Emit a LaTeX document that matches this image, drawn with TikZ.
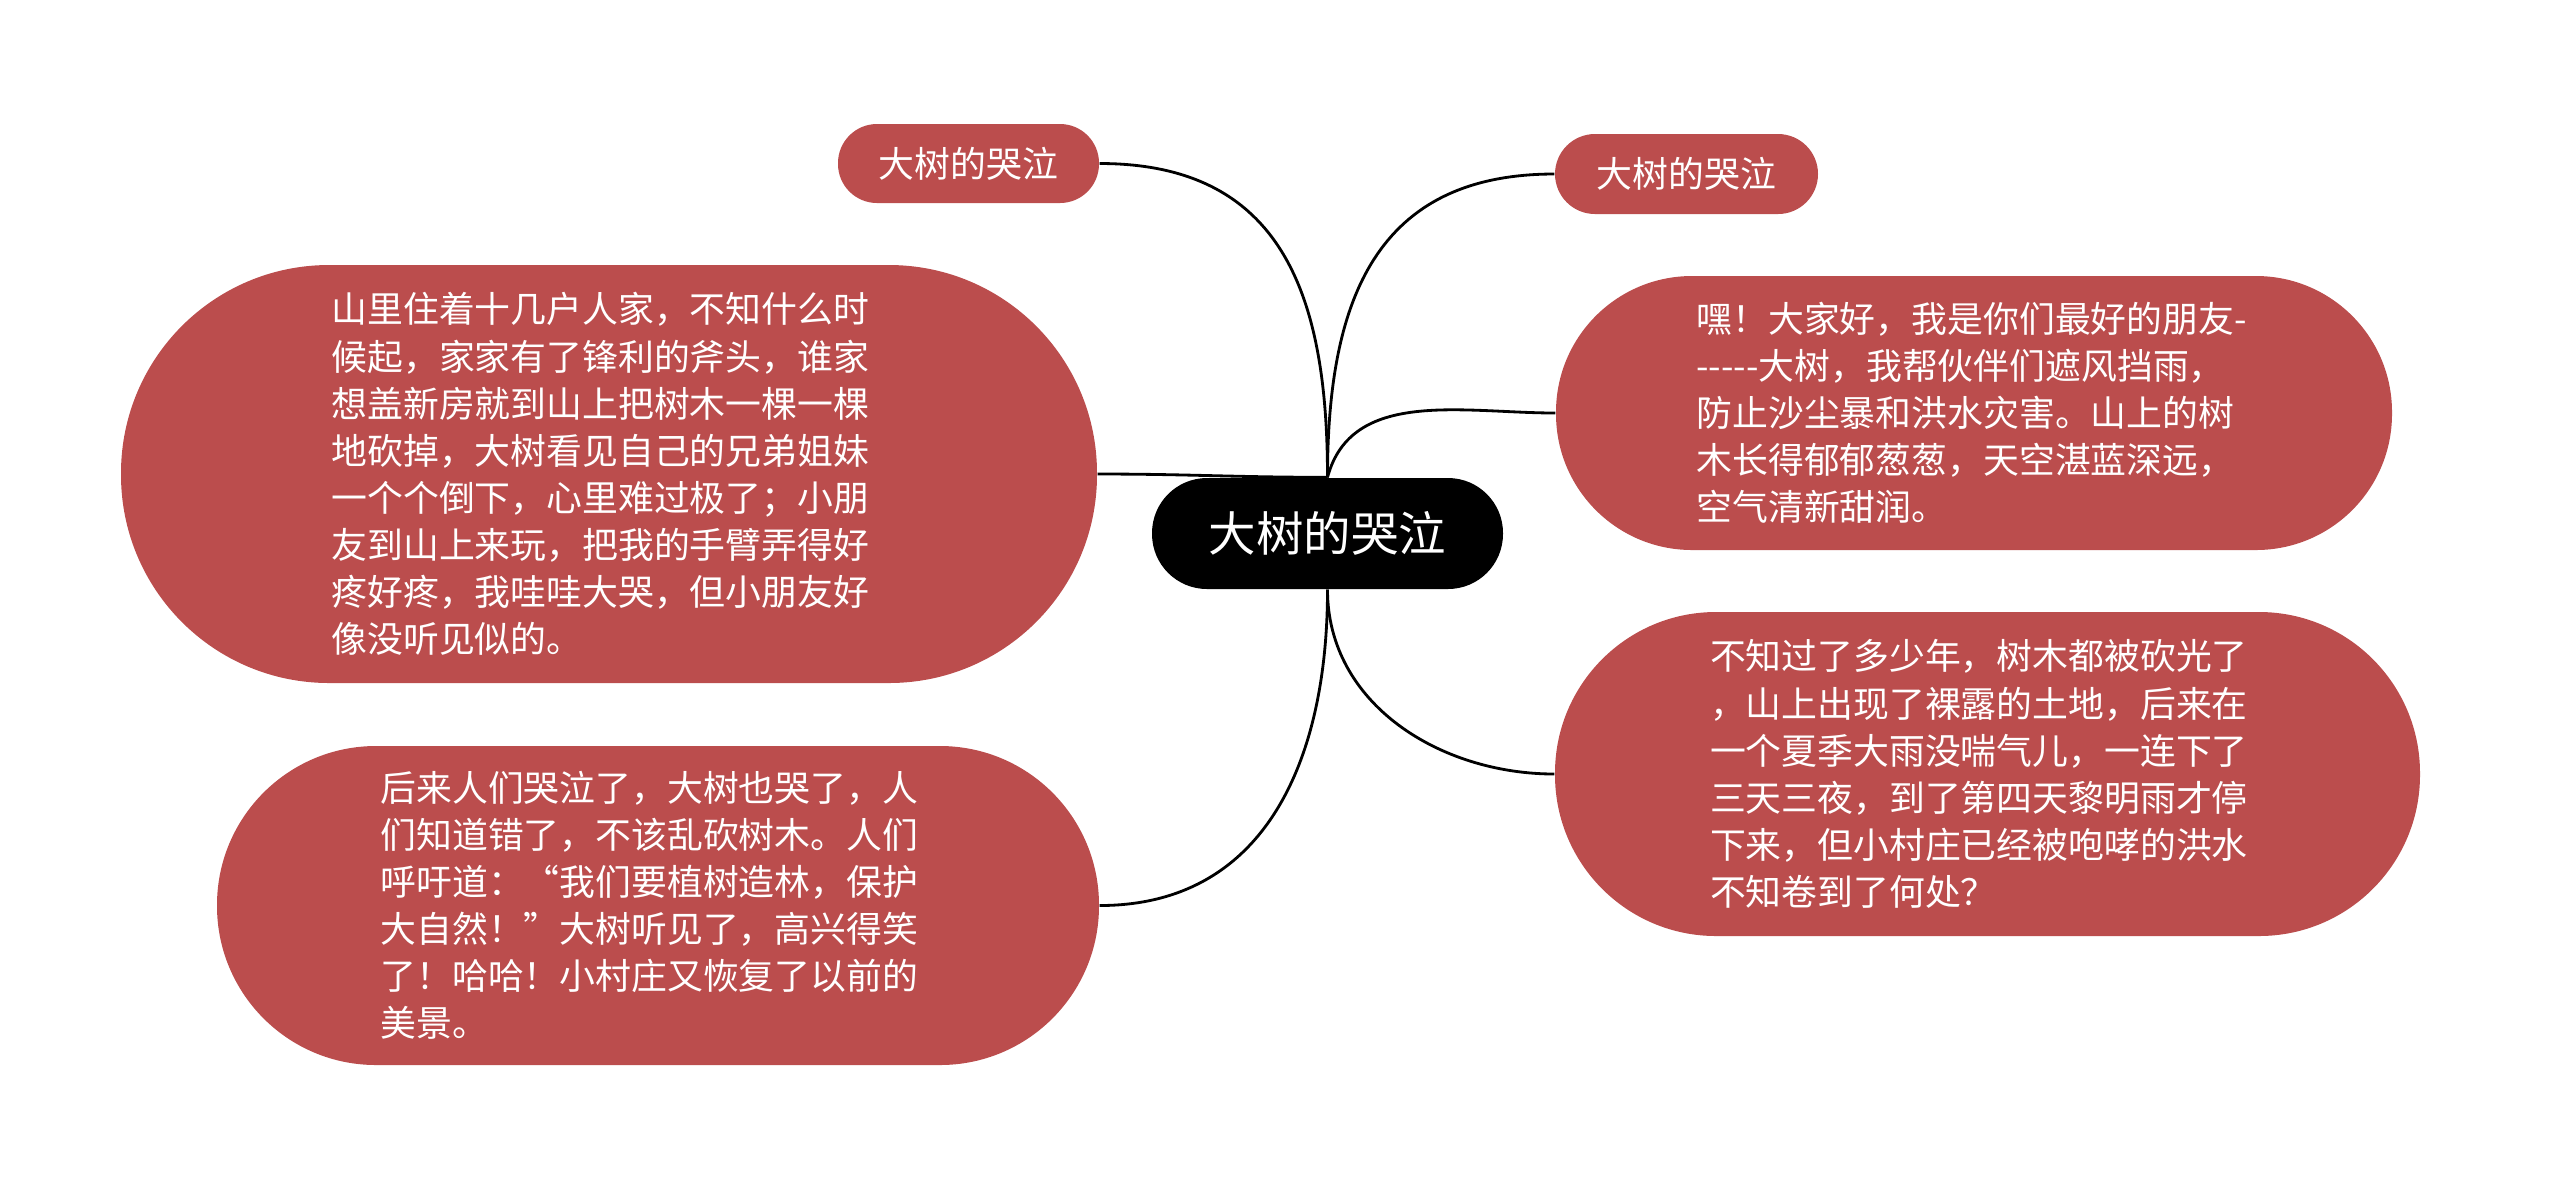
\documentclass[tikz,border=0pt]{standalone}
\usepackage{fontspec}
\setmainfont{Noto Sans CJK SC}
\definecolor{leafred}{RGB}{187,77,77}

\begin{document}
\begin{tikzpicture}[
		every node/.style={inner sep=0pt, text=white},
		topic/.style={fill=black, font=\fontsize{13.5}{16}\selectfont},
		leaf/.style={fill=leafred, font=\fontsize{10.2}{13.4}\selectfont},
		story/.style={leaf, text width=5.55cm, align=left},
		branch/.style={draw=black, line width=0.8pt}
	]
  \useasboundingbox (0,0) rectangle (25.6,-11.88);
  \node (root) [topic, minimum width=3.51cm, minimum height=1.11cm, rounded corners=0.55cm] at (13.275cm, -5.335cm) {大树的哭泣};
  \node (tl) [leaf, minimum width=2.61cm, minimum height=0.79cm, rounded corners=0.39cm] at (9.685cm, -1.635cm) {大树的哭泣};
  \node (tr) [leaf, minimum width=2.63cm, minimum height=0.8cm, rounded corners=0.4cm] at (16.865cm, -1.74cm) {大树的哭泣};
  \node (l1) [story, minimum width=9.76cm, minimum height=4.18cm, rounded corners=2.08cm] at (6.09cm, -4.74cm) {山里住着十几户人家，不知什么时\\候起，家家有了锋利的斧头，谁家\\想盖新房就到山上把树木一棵一棵\\地砍掉，大树看见自己的兄弟姐妹\\一个个倒下，心里难过极了；小朋\\友到山上来玩，把我的手臂弄得好\\疼好疼，我哇哇大哭，但小朋友好\\像没听见似的。};
  \node (l2) [story, minimum width=8.82cm, minimum height=3.19cm, rounded corners=1.59cm] at (6.58cm, -9.055cm) {后来人们哭泣了，大树也哭了，人\\们知道错了，不该乱砍树木。人们\\呼吁道：“我们要植树造林，保护\\大自然！”大树听见了，高兴得笑\\了！哈哈！小村庄又恢复了以前的\\美景。};
  \node (r1) [story, minimum width=8.36cm, minimum height=2.74cm, rounded corners=1.36cm] at (19.74cm, -4.13cm) {嘿！大家好，我是你们最好的朋友-\\{-}{-}{-}{-}{-}大树，我帮伙伴们遮风挡雨，\\防止沙尘暴和洪水灾害。山上的树\\木长得郁郁葱葱，天空湛蓝深远，\\空气清新甜润。};
  \node (r2) [story, minimum width=8.65cm, minimum height=3.24cm, rounded corners=1.61cm] at (19.875cm, -7.74cm) {不知过了多少年，树木都被砍光了\\，山上出现了裸露的土地，后来在\\一个夏季大雨没喘气儿，一连下了\\三天三夜，到了第四天黎明雨才停\\下来，但小村庄已经被咆哮的洪水\\不知卷到了何处？};
  \draw [branch] (root.north) to[out=90, in=0, looseness=1.2] (tl.east);
  \draw [branch] (root.north) to[out=90, in=180, looseness=1.2] (tr.west);
  \draw [branch] (root.north) to[out=75, in=180] (r1.west);
  \draw [branch] (root.north) to[out=180, in=0] (l1.east);
  \draw [branch] (root.south) to[out=-90, in=0, looseness=1.1] (l2.east);
  \draw [branch] (root.south) to[out=-90, in=180] (r2.west);
\end{tikzpicture}
\end{document}
